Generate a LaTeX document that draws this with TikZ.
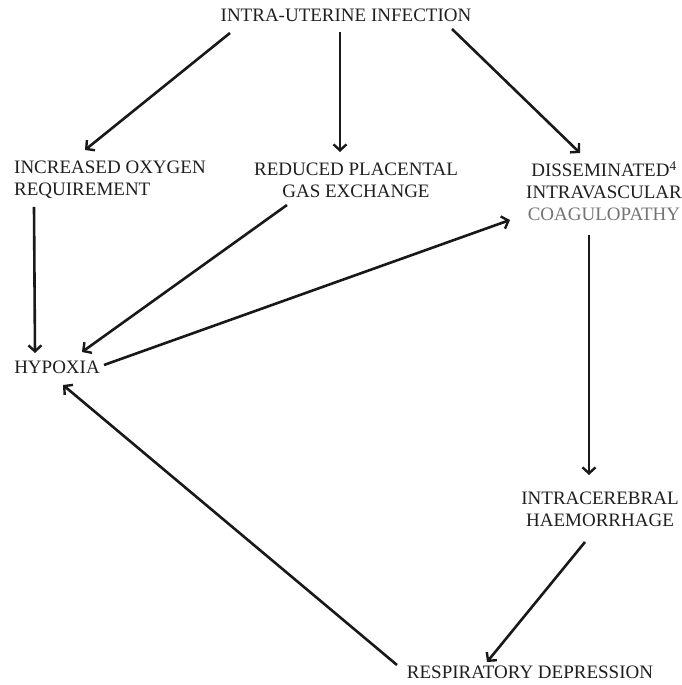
\documentclass[tikz,border=0pt]{standalone}
\usepackage{fontspec}
\setmainfont{Liberation Serif}
\usetikzlibrary{positioning,arrows.meta}

\begin{document}
\begin{tikzpicture}[x=1pt, y=1pt, on grid,
	lbl/.style={align=center, inner sep=0pt, font=\fontsize{19}{22}\selectfont, text=black!88},
	arr/.style={line width=2.6pt, black!90, -{Straight Barb[length=6pt,width=13pt,line width=2.4pt]}}]
\useasboundingbox (0,0) rectangle (681,685);

	\node[lbl] (infection) at (346,670) {INTRA-UTERINE INFECTION};
	\node[lbl, align=left, anchor=west] (oxygen) at (14,505) {INCREASED OXYGEN\\REQUIREMENT};
	\node[lbl] (placental) at (356,505) {REDUCED PLACENTAL\\GAS EXCHANGE};
	\node[lbl] (coag) at (604,494) {DISSEMINATED\textsuperscript{4}\\INTRAVASCULAR\\{\color{black!55}COAGULOPATHY}};
	\node[lbl] (hypoxia) at (57,318) {HYPOXIA};
	\node[lbl] (haemorrhage) at (600,176) {INTRACEREBRAL\\HAEMORRHAGE};
	\node[lbl] (resp) at (530,13) {RESPIRATORY DEPRESSION};
	
	\coordinate[below left = 18pt and 116pt of infection] (inf1);
	\coordinate[below left = 17pt and 6pt of infection] (inf2);
	\coordinate[below right = 14pt and 106pt of infection] (inf3);
	
	\coordinate[above right = 30pt and 71pt of oxygen.west] (oxy1);
	\coordinate[below right = 27pt and 20pt of oxygen.west] (oxy2);
	
	\coordinate[above left = 28pt and 16pt of placental] (pla1);
	\coordinate[below left = 25pt and 69pt of placental] (pla2);
	
	\coordinate[above left = 38pt and 24pt of coag] (coa1);
	\coordinate[below left = 29pt and 94pt of coag] (coa2);
	\coordinate[below left = 44pt and 15pt of coag] (coa3);
	
	\coordinate[above left = 14pt and 22pt of hypoxia] (hyp1);
	\coordinate[above right = 15pt and 25pt of hypoxia] (hyp2);
	\coordinate[above right = 2pt and 47pt of hypoxia] (hyp3);
	\coordinate[below right = 18pt and 6pt of hypoxia] (hyp4);
	
	\coordinate[above left = 34pt and 11pt of haemorrhage] (hae1);
	\coordinate[below left = 33pt and 15pt of haemorrhage] (hae2);
	
	\coordinate[above left = 10pt and 43pt of resp] (res1);
	\coordinate[above left = 7pt and 133pt of resp] (res2);
	
	\draw[arr] (inf1) -- (oxy1);
	\draw[arr] (inf2) -- (pla1);
	\draw[arr] (inf3) -- (coa1);
	
	\draw[arr] (oxy2) -- (hyp1);
	\draw[arr] (pla2) -- (hyp2);
	\draw[arr] (hyp3) -- (coa2);
	
	\draw[arr] (coa3) -- (hae1);
	\draw[arr] (hae2) -- (res1);
	\draw[arr] (res2) -- (hyp4);

\end{tikzpicture}
\end{document}
